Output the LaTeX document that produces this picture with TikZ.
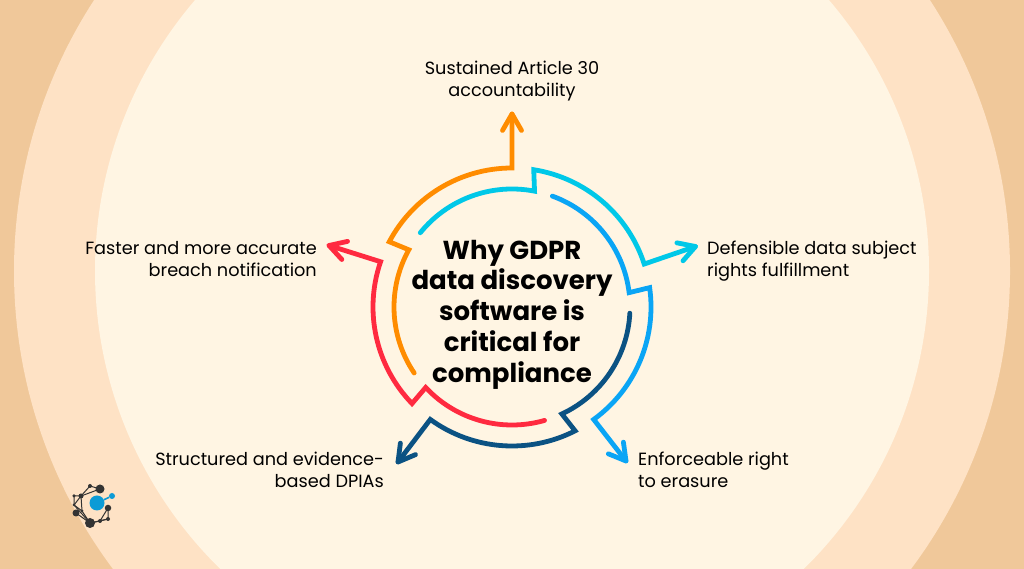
\documentclass[tikz,border=0pt]{standalone}
\usepackage{fontspec}
\setmainfont{Poppins}
\usetikzlibrary{calc}

\definecolor{bgouter}{HTML}{F0C89A}
\definecolor{bgmiddle}{HTML}{FEE2C5}
\definecolor{bginner}{HTML}{FFF5E3}
\definecolor{ringorange}{HTML}{FF8C00}
\definecolor{ringcyan}{HTML}{00C8E8}
\definecolor{ringblue}{HTML}{0AA5F5}
\definecolor{ringnavy}{HTML}{0B5283}
\definecolor{ringred}{HTML}{FF2A40}
\definecolor{logodark}{HTML}{333333}
\definecolor{logoblue}{HTML}{0C9BD6}

\tikzset{
  ring/.style={line width=4.8pt,line cap=round,line join=miter},
  ringhead/.style={line width=4.8pt,line cap=round,line join=round},
  label/.style={font=\fontsize{17.7}{22.5}\selectfont,text=black,inner sep=0pt},
  title/.style={font=\fontsize{26}{30.7}\selectfont\bfseries,text=black,align=center,inner sep=0pt},
  logodot/.style={circle,fill=logodark,inner sep=0pt},
  logoline/.style={line width=1pt,draw=logodark}
}

% barbs of an arrow: colour, tip, point the shaft comes from
\newcommand{\ringbarbs}[3]{
  \draw[ringhead,#1] ($(#2)!19pt!30:(#3)$) -- (#2) -- ($(#2)!19pt!-30:(#3)$);
}

\begin{document}
\begin{tikzpicture}[x=1pt,y=1pt]

  % background
  \fill[bgouter] (0,0) rectangle (1024,569);
  \begin{scope}
    \clip (0,0) rectangle (1024,569);
    \fill[bgmiddle] (512,298) circle (498pt);
    \fill[bginner] (512,298) circle (417pt);
  \end{scope}
  \useasboundingbox (0,0) rectangle (1024,569);

  \coordinate (c) at (512,262);
  \def\rin{118pt}
  \def\rout{139pt}

  % arrow ends
  \coordinate (tiporange) at (512,455);
  \coordinate (tipcyan) at (695.5,322.5);
  \coordinate (tipblue) at (626,108);
  \coordinate (tipnavy) at (398,107);
  \coordinate (tipred) at (329,323.5);

  % the five arrows
  \draw[ring,ringorange] ($(c)+(214:\rin)$) arc[start angle=214,end angle=151,radius=\rin]
    -- ($(c)+(152:\rout)$) arc[start angle=152,end angle=90,radius=\rout] coordinate (fromorange) -- (tiporange);
  \draw[ring,ringcyan] ($(c)+(141:\rin)$) arc[start angle=141,end angle=79,radius=\rin]
    -- ($(c)+(81:\rout)$) arc[start angle=81,end angle=18,radius=\rout] coordinate (fromcyan) -- (tipcyan);
  \draw[ring,ringblue] ($(c)+(70:\rin)$) arc[start angle=70,end angle=7,radius=\rin]
    -- ($(c)+(8:\rout)$) arc[start angle=8,end angle=-54,radius=\rout] coordinate (fromblue) -- (tipblue);
  \draw[ring,ringnavy] ($(c)+(-3:\rin)$) arc[start angle=-3,end angle=-65,radius=\rin]
    -- ($(c)+(-63:\rout)$) arc[start angle=-63,end angle=-126,radius=\rout] coordinate (fromnavy) -- (tipnavy);
  \draw[ring,ringred] ($(c)+(-74:\rin)$) arc[start angle=-74,end angle=-137,radius=\rin]
    -- ($(c)+(-136:\rout)$) arc[start angle=-136,end angle=-199,radius=\rout] coordinate (fromred) -- (tipred);

  \ringbarbs{ringorange}{tiporange}{fromorange}
  \ringbarbs{ringcyan}{tipcyan}{fromcyan}
  \ringbarbs{ringblue}{tipblue}{fromblue}
  \ringbarbs{ringnavy}{tipnavy}{fromnavy}
  \ringbarbs{ringred}{tipred}{fromred}

  % texts
  \node[title] (centre) at (512,254.5) {Why GDPR\\data discovery\\software is\\critical for\\compliance};
  \node[label,align=center] (lbltop) at (512,488) {Sustained Article 30\\accountability};
  \node[label,align=left,anchor=west] (lblright) at (707,308) {Defensible data subject\\rights fulfillment};
  \node[label,align=left,anchor=west] (lblerase) at (638,99) {Enforceable right\\to erasure};
  \node[label,align=right,anchor=east] (lbldpia) at (384,99) {Structured and evidence-\\based DPIAs};
  \node[label,align=right,anchor=east] (lblbreach) at (317,310) {Faster and more accurate\\breach notification};

  % logo
  \coordinate (l9) at (74,64);
  \coordinate (l10) at (82,58);
  \coordinate (l11) at (100,48);
  \draw[logoline] (100,80) coordinate (l1) -- (90,83) coordinate (l2) -- (81,73) coordinate (l3) -- (74,73) coordinate (l4) -- (l9) -- (90,46) coordinate (l6);
  \draw[logoline] (l1) -- (l3) -- (l9) -- (l10) -- (l6) -- (l11) -- (108,50) coordinate (l7) -- (108,61) coordinate (l8) -- (l11);
  \draw[logoline] (l3) -- (l10);
  \draw[logoline] (76,56) coordinate (l5) -- (l6) -- (l7);
  \node[logodot,minimum size=9pt] (d1) at (l1) {};
  \node[logodot,minimum size=4pt] (d2) at (l2) {};
  \node[logodot,minimum size=5pt] (d3) at (l3) {};
  \node[logodot,minimum size=3.5pt] (d4) at (l4) {};
  \node[logodot,minimum size=7pt] (d5) at (l5) {};
  \node[logodot,minimum size=10pt] (d6) at (l6) {};
  \node[logodot,minimum size=4pt] (d7) at (l7) {};
  \node[logodot,minimum size=6.5pt] (d8) at (l8) {};
  \node[logodot,minimum size=3pt] (d9) at (l9) {};
  \node[logodot,minimum size=3pt] (d10) at (l10) {};
  \node[logodot,minimum size=4pt] (d11) at (l11) {};
  \node[circle,fill=logoblue,inner sep=0pt,minimum size=15pt] (hub) at (97,66) {};
  \node[circle,fill=logoblue,inner sep=0pt,minimum size=6pt] (sat) at (112,73) {};
  \draw[line width=1.6pt,logoblue] (hub) -- (sat);
\end{tikzpicture}
\end{document}
